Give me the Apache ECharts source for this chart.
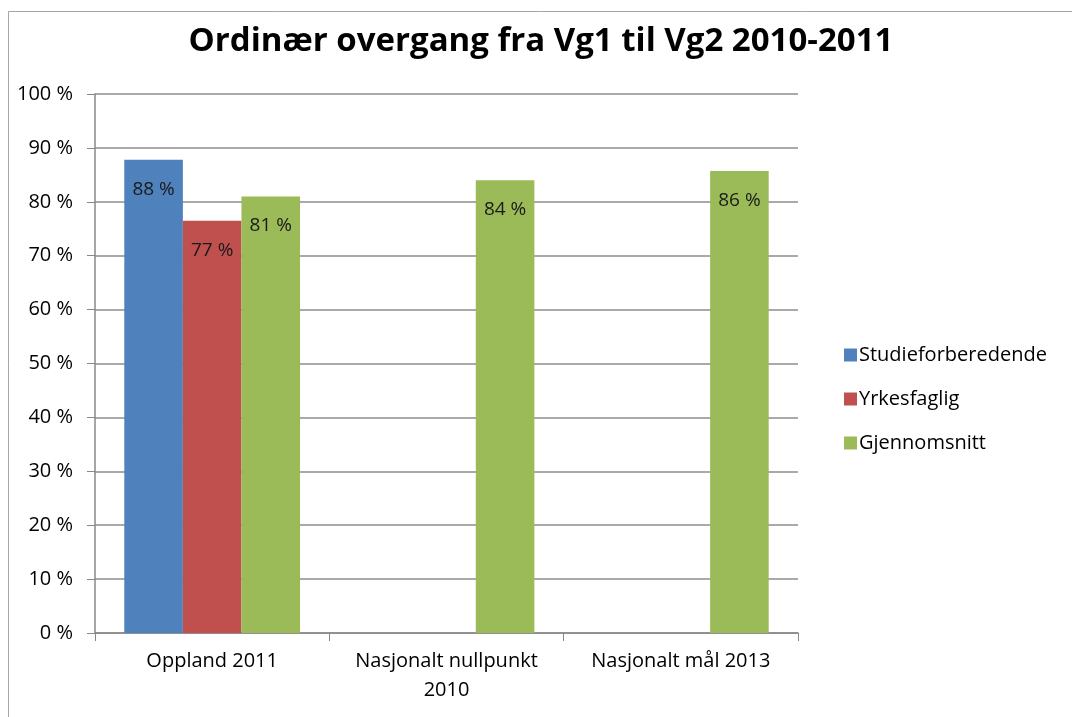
<!DOCTYPE html>
<html>
<head>
<meta charset="utf-8">
<script src="https://cdn.jsdelivr.net/npm/echarts@6/dist/echarts.min.js"></script>
<style>
html,body{margin:0;padding:0;background:#fff;}
#chart{width:1072px;height:717px;}
</style>
</head>
<body>
<div id="chart"></div>
<script>
var categories = ['Oppland 2011', 'Nasjonalt nullpunkt\n2010', 'Nasjonalt mål 2013'];
var studieforberedende = [87.8, null, null];
var yrkesfaglig = [76.5, null, null];
var gjennomsnitt = [81, 84, 85.7];
var yTicks = [0, 10, 20, 30, 40, 50, 60, 70, 80, 90, 100];

var font = '"Open Sans", "DejaVu Sans", sans-serif';

function bar(name, data, color){
    return {
        name: name,
        type: 'bar',
        data: data,
        barGap: '0%',
        barCategoryGap: '25%',
        itemStyle: {color: color},
        label: {
            show: true,
            position: 'insideTop',
            distance: 20,
            color: '#1a1a1a',
            fontFamily: font,
            fontSize: 19,
            formatter: function(p){ return Math.round(p.value) + ' %'; }
        }
    };
}

var chart = echarts.init(document.getElementById('chart'));
chart.setOption({
    animation: false,
    backgroundColor: '#fff',
    graphic: [{
        type: 'rect',
        shape: {x: 8.5, y: 11.5, width: 1200, height: 900},
        style: {fill: 'none', stroke: '#a6a6a6', lineWidth: 1}
    }],
    title: {
        text: 'Ordinær overgang fra Vg1 til Vg2 2010-2011',
        left: 536,
        textAlign: 'center',
        top: 20,
        textStyle: {fontFamily: font, fontSize: 33, fontWeight: 'bold', color: '#000'}
    },
    legend: {
        orient: 'vertical',
        left: 839,
        top: 340,
        itemWidth: 13,
        itemHeight: 13,
        itemGap: 24,
        icon: 'rect',
        textStyle: {fontFamily: font, fontSize: 20, color: '#000', padding: [0, 0, 0, -3]}
    },
    grid: {left: 95, right: 274, top: 94, bottom: 84, containLabel: false},
    xAxis: {
        type: 'category',
        data: categories,
        axisLine: {lineStyle: {color: '#888', width: 1.5}},
        axisTick: {show: true, length: 8, alignWithLabel: false, lineStyle: {color: '#888'}},
        axisLabel: {interval: 0, hideOverlap: false, fontFamily: font, fontSize: 20, color: '#000', margin: 14, lineHeight: 29}
    },
    yAxis: {
        type: 'value',
        min: yTicks[0],
        max: yTicks[yTicks.length - 1],
        interval: 10,
        axisLine: {show: true, lineStyle: {color: '#888', width: 1.5}},
        axisTick: {show: true, length: 8, lineStyle: {color: '#888'}},
        splitLine: {lineStyle: {color: '#8c8c8c', width: 1.5}},
        axisLabel: {
            fontFamily: font, fontSize: 20, color: '#000', margin: 22,
            formatter: function(v){ return v + ' %'; }
        }
    },
    series: [
        bar('Studieforberedende', studieforberedende, '#4f81bd'),
        bar('Yrkesfaglig', yrkesfaglig, '#c0504d'),
        bar('Gjennomsnitt', gjennomsnitt, '#9bbb59')
    ]
});
</script>
</body>
</html>
